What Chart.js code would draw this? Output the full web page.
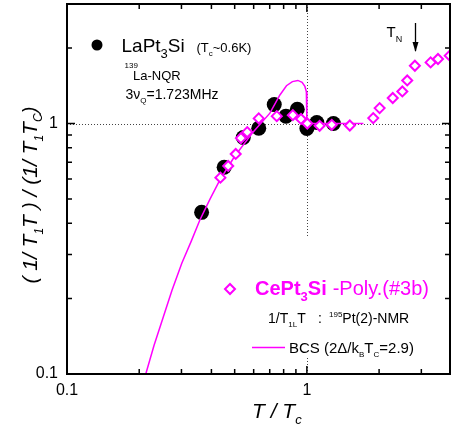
<!DOCTYPE html>
<html><head><meta charset="utf-8">
<script src="https://cdn.jsdelivr.net/npm/chart.js@4.4.0/dist/chart.umd.min.js"></script>
<style>html,body{margin:0;padding:0;background:#fff;}canvas{display:block;}</style>
</head><body>
<canvas id="c" width="451" height="431"></canvas>
<script>
// LaPt3Si, 139La-NQR (black circles)
const laX = [0.364, 0.452, 0.543, 0.630, 0.731, 0.818, 0.912, 1.0, 1.10, 1.29];
const laY = [0.442, 0.669, 0.879, 0.958, 1.19, 1.07, 1.14, 0.955, 1.01, 1.0];
// CePt3Si poly (#3b), 195Pt(2)-NMR (magenta open diamonds)
const ceX = [0.436, 0.470, 0.505, 0.531, 0.564, 0.630, 0.749, 0.874, 0.945, 1.004, 1.13, 1.27, 1.51, 1.89, 2.01, 2.28, 2.50, 2.62, 2.82, 3.28, 3.52, 3.94];
const ceY = [0.608, 0.677, 0.756, 0.874, 0.924, 1.048, 1.07, 1.08, 1.043, 1.0, 0.979, 0.988, 0.982, 1.051, 1.152, 1.264, 1.343, 1.486, 1.70, 1.754, 1.81, 1.866];
// BCS curve (2Δ/kBTc = 2.9)
const bcsX = [0.213, 0.2305, 0.252, 0.274, 0.301, 0.330, 0.358, 0.395, 0.434, 0.50, 0.60, 0.701, 0.772, 0.822, 0.87, 0.917, 0.955, 0.981, 0.995, 1.0, 1.0, 1.72];
const bcsY = [0.10, 0.130, 0.169, 0.216, 0.277, 0.340, 0.412, 0.50, 0.595, 0.74, 0.93, 1.10, 1.30, 1.415, 1.47, 1.486, 1.46, 1.406, 1.34, 1.2, 1.0, 1.0];
// axis ticks
const tickVals = [0.1, 0.2, 0.3, 0.4, 0.5, 0.6, 0.7, 0.8, 0.9, 1, 2, 3];
const majorVals = [0.1, 1];
const tickLabels = {0.1: '0.1', 1: '1'};

const MAG = '#ff00ff';
const FF = "'Liberation Sans', Arial, Helvetica, sans-serif";

function pts(xs, ys) { return xs.map((x, i) => ({x: x, y: ys[i]})); }

function rich(ctx, x, y, parts) {
  let cx = x;
  for (const p of parts) {
    if (p.gap) { cx += p.gap; continue; }
    ctx.font = (p.i ? 'italic ' : '') + (p.b ? 'bold ' : '') + p.s + 'px ' + FF;
    ctx.fillStyle = p.c || '#000';
    ctx.fillText(p.t, cx, y + (p.dy || 0));
    cx += ctx.measureText(p.t).width;
  }
  return cx;
}
function richWidth(ctx, parts) {
  let w = 0;
  for (const p of parts) {
    if (p.gap) { w += p.gap; continue; }
    ctx.font = (p.i ? 'italic ' : '') + (p.b ? 'bold ' : '') + p.s + 'px ' + FF;
    w += ctx.measureText(p.t).width;
  }
  return w;
}
function zeroPad(s) { s.paddingTop = 0; s.paddingBottom = 0; s.paddingLeft = 0; s.paddingRight = 0; }

const decor = {
  id: 'decor',
  beforeDatasetsDraw(chart) {
    const {ctx, chartArea: a, scales: {x, y}} = chart;
    ctx.save();
    ctx.strokeStyle = '#444';
    ctx.lineWidth = 1;
    ctx.setLineDash([1, 2]);
    const y1 = Math.round(y.getPixelForValue(1)) + 0.5;
    const x1 = Math.round(x.getPixelForValue(1)) + 0.5;
    ctx.beginPath(); ctx.moveTo(a.left, y1); ctx.lineTo(a.right, y1); ctx.stroke();
    ctx.beginPath(); ctx.moveTo(x1, a.top); ctx.lineTo(x1, a.bottom); ctx.stroke();
    ctx.setLineDash([]);
    // legend background
    ctx.fillStyle = '#fff';
    ctx.fillRect(222, 237, 222, 121);
    ctx.restore();
  },
  afterDatasetsDraw(chart) {
    const {ctx, chartArea: a, scales: {x, y}} = chart;
    ctx.save();
    // frame
    ctx.strokeStyle = '#000';
    ctx.lineWidth = 2;
    ctx.strokeRect(a.left, a.top, a.right - a.left, a.bottom - a.top);
    // inward ticks on all sides
    ctx.lineWidth = 1.5;
    for (const v of tickVals) {
      const len = majorVals.includes(v) ? 8 : 5;
      const px = x.getPixelForValue(v);
      if (px >= a.left && px <= a.right) {
        ctx.beginPath();
        ctx.moveTo(px, a.bottom); ctx.lineTo(px, a.bottom - len);
        ctx.moveTo(px, a.top); ctx.lineTo(px, a.top + len);
        ctx.stroke();
      }
      const py = y.getPixelForValue(v);
      if (py >= a.top - 0.5 && py <= a.bottom) {
        ctx.beginPath();
        ctx.moveTo(a.left, py); ctx.lineTo(a.left + len, py);
        ctx.moveTo(a.right, py); ctx.lineTo(a.right - len, py);
        ctx.stroke();
      }
    }
    ctx.textBaseline = 'alphabetic';
    ctx.textAlign = 'left';
    // LaPt3Si legend
    ctx.fillStyle = '#000';
    ctx.beginPath(); ctx.arc(97, 45, 5.5, 0, Math.PI * 2); ctx.fill();
    rich(ctx, 121.5, 52, [
      {t: 'LaPt', s: 19}, {t: '3', s: 13, dy: 6}, {t: 'Si', s: 19}]);
    rich(ctx, 196.5, 52, [
      {t: '(T', s: 13}, {t: 'c', s: 8, dy: 4}, {t: '~0.6K)', s: 13}]);
    rich(ctx, 124.5, 74, [{t: '139', s: 8, dy: -6}]);
    rich(ctx, 133, 80, [{t: 'La-NQR', s: 13}]);
    rich(ctx, 125.5, 99, [
      {t: '3ν', s: 14}, {t: 'Q', s: 8, dy: 4}, {t: '=1.723MHz', s: 14}]);
    // T_N arrow
    rich(ctx, 386.5, 37, [{t: 'T', s: 15}, {t: 'N', s: 9, dy: 5}]);
    ctx.strokeStyle = '#000';
    ctx.lineWidth = 1.3;
    ctx.beginPath();
    ctx.moveTo(415.5, 23); ctx.lineTo(415.5, 51);
    ctx.stroke();
    ctx.beginPath();
    ctx.moveTo(412.5, 42); ctx.lineTo(415.5, 52); ctx.lineTo(418.5, 42); ctx.closePath();
    ctx.fill();
    // CePt3Si legend
    ctx.save();
    ctx.strokeStyle = MAG; ctx.fillStyle = '#fff'; ctx.lineWidth = 2;
    ctx.beginPath();
    ctx.moveTo(230, 284); ctx.lineTo(235, 289); ctx.lineTo(230, 294); ctx.lineTo(225, 289); ctx.closePath();
    ctx.fill(); ctx.stroke();
    ctx.restore();
    rich(ctx, 255, 295, [
      {t: 'CePt', s: 20, b: true, c: MAG}, {t: '3', s: 13, b: true, dy: 6, c: MAG}, {t: 'Si', s: 20, b: true, c: MAG},
      {gap: 6}, {t: '-Poly.(#3b)', s: 20, c: MAG}]);
    rich(ctx, 268, 323, [
      {t: '1/T', s: 14}, {t: '1L', s: 8, dy: 4}, {t: 'T', s: 14}]);
    rich(ctx, 318, 323, [{t: ':', s: 14}]);
    rich(ctx, 329, 323, [{t: '195', s: 8, dy: -6}, {t: 'Pt(2)-NMR', s: 14}]);
    ctx.strokeStyle = MAG; ctx.lineWidth = 1.5;
    ctx.beginPath(); ctx.moveTo(252, 347.5); ctx.lineTo(285, 347.5); ctx.stroke();
    rich(ctx, 289, 353, [
      {t: 'BCS (2Δ/k', s: 15}, {t: 'B', s: 8, dy: 4}, {t: 'T', s: 15}, {t: 'C', s: 8, dy: 4}, {t: '=2.9)', s: 15}]);
    // x-axis title
    rich(ctx, 252, 418, [{t: 'T / T', s: 21, i: true}, {t: 'c', s: 13, i: true, dy: 6}]);
    // y-axis title (rotated)
    const yparts = [
      {t: '( 1/ T', s: 21, i: true}, {t: '1', s: 12, i: true, dy: 6},
      {t: 'T ) / (1/ T', s: 21, i: true}, {t: '1', s: 12, i: true, dy: 6},
      {t: 'T', s: 21, i: true}, {t: 'C', s: 12, i: true, dy: 5}, {t: ')', s: 21, i: true}];
    const w = richWidth(ctx, yparts);
    ctx.save();
    ctx.translate(37, 195);
    ctx.rotate(-Math.PI / 2);
    rich(ctx, -w / 2, 0, yparts);
    ctx.restore();
    ctx.restore();
  }
};

new Chart(document.getElementById('c').getContext('2d'), {
  type: 'scatter',
  data: {
    datasets: [
      {label: 'CePt3Si', data: pts(ceX, ceY), pointStyle: 'rectRot', pointRadius: 5, pointBorderWidth: 2,
       borderColor: MAG, backgroundColor: '#fff', pointBackgroundColor: '#fff', showLine: false, order: 0},
      {label: 'BCS', data: pts(bcsX, bcsY), showLine: true, borderColor: MAG, borderWidth: 1.5,
       pointRadius: 0, tension: 0, fill: false, order: 1},
      {label: 'LaPt3Si', data: pts(laX, laY), pointStyle: 'circle', pointRadius: 7.5, pointBorderWidth: 0,
       backgroundColor: '#000', borderColor: '#000', showLine: false, order: 2}
    ]
  },
  options: {
    responsive: false, animation: false, devicePixelRatio: 1,
    layout: {autoPadding: false, padding: {top: 4, right: 1, left: 0, bottom: 0}},
    plugins: {legend: {display: false}, tooltip: {enabled: false}},
    scales: {
      x: {
        type: 'logarithmic', min: 0.1, max: 3.95,
        afterBuildTicks: s => { s.ticks = tickVals.map(v => ({value: v})); },
        afterFit: s => { s.height = 57; zeroPad(s); },
        grid: {display: false, drawTicks: false}, border: {display: false},
        ticks: {autoSkip: false, maxRotation: 0, minRotation: 0, padding: 7, color: '#000',
          font: {family: FF, size: 16}, callback: v => tickLabels[v] || ''}
      },
      y: {
        type: 'logarithmic', min: 0.1, max: 3,
        afterBuildTicks: s => { s.ticks = tickVals.map(v => ({value: v})); },
        afterFit: s => { s.width = 67; zeroPad(s); },
        grid: {display: false, drawTicks: false}, border: {display: false},
        ticks: {autoSkip: false, padding: 9, color: '#000',
          font: {family: FF, size: 16}, callback: v => tickLabels[v] || ''}
      }
    }
  },
  plugins: [decor]
});
</script>
</body></html>
